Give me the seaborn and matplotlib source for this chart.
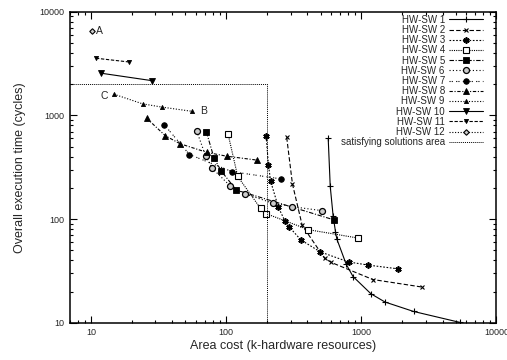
# %% imports

import seaborn as sns
import matplotlib
matplotlib.use("Agg")
import matplotlib.pyplot as plt
import matplotlib.ticker as mticker

# %% data (area in k-hardware resources, time in cycles)

names = ["HW-SW 1", "HW-SW 2", "HW-SW 3", "HW-SW 4", "HW-SW 5", "HW-SW 6",
         "HW-SW 7", "HW-SW 8", "HW-SW 9", "HW-SW 10", "HW-SW 11", "HW-SW 12"]

area_1 = [570, 590, 620, 645, 660, 775, 870, 1180, 1500, 2440, 5400]
time_1 = [600, 207, 107, 76, 64.5, 36.7, 28, 19.1, 15.9, 12.9, 10.1]

area_2 = [281, 310, 366, 536, 600, 1220, 2800]
time_2 = [615, 218, 87, 42, 38.3, 26.2, 22.2]

area_3 = [198, 206, 214, 244, 273, 292, 358, 499, 807, 1125, 1875]
time_3 = [627, 330, 231, 130, 95.7, 84.7, 63.1, 48.3, 38.7, 36.1, 33.2]

area_4 = [103.5, 122, 180, 198, 407, 940]
time_4 = [661, 258, 127, 113, 79.2, 65.9]

area_5 = [71.6, 81.5, 91.8, 119, 628]
time_5 = [691, 388, 293, 191, 98.5]

area_6 = [60.7, 70.5, 79.3, 107, 137, 221, 308, 509]
time_6 = [706, 409, 308, 210, 176, 143, 132, 121]

area_7 = [34.8, 53.6, 111, 257]
time_7 = [817, 420, 287, 244]

area_8 = [25.8, 35.6, 45.8, 72.4, 101.7, 170]
time_8 = [942, 636, 533, 440, 404, 371]

area_9 = [14.8, 24.1, 33.7, 56.2]
time_9 = [1603, 1294, 1202, 1095]

area_10 = [11.9, 28.1]
time_10 = [2553, 2167]

area_11 = [10.9, 19.0]
time_11 = [3560, 3280]

area_12 = [10.2]
time_12 = [6520]

# satisfying solutions area: area <= 200, time <= 2000
limit_area = [7, 200, 200]
limit_time = [2000, 2000, 10]

areas = [area_1, area_2, area_3, area_4, area_5, area_6,
         area_7, area_8, area_9, area_10, area_11, area_12]
times = [time_1, time_2, time_3, time_4, time_5, time_6,
         time_7, time_8, time_9, time_10, time_11, time_12]

# %% gnuplot-like styles

styles = [
    dict(marker="+", ms=4.5, ls="-", mew=0.8),
    dict(marker="x", ms=3.5, ls=(0, (4, 2)), mew=0.8),
    dict(marker=(6, 2, 0), ms=4.5, ls=(0, (1.5, 1.5)), mew=1.2),
    dict(marker="s", ms=4, ls=(0, (1, 1)), mfc="white", mew=0.8),
    dict(marker="s", ms=4.3, ls=(0, (4, 1.5, 1, 1.5))),
    dict(marker="o", ms=4.3, ls=(0, (1, 2)), mfc="#cccccc", mew=0.9),
    dict(marker="o", ms=4, ls=(0, (1, 1, 1, 3))),
    dict(marker="^", ms=4.8, ls=(0, (3, 1.5, 1, 1.5))),
    dict(marker="^", ms=3, ls=(0, (1, 1.5))),
    dict(marker="v", ms=5, ls="-"),
    dict(marker="v", ms=3, ls=(0, (3, 1.5))),
    dict(marker="D", ms=2.8, ls=(0, (1, 1.5)), mfc="#cccccc", mew=0.8),
]

# %% plot

sns.set_style("ticks")
plt.rcParams['font.family'] = ['Liberation Sans', 'DejaVu Sans']

fig, ax = plt.subplots(figsize=(5.07, 3.6), dpi=100)
fig.subplots_adjust(left=0.138, right=0.979, bottom=0.103, top=0.9675)

for name, xs, ys, st in zip(names, areas, times, styles):
    sns.lineplot(x=xs, y=ys, ax=ax, color="black", linewidth=0.8,
                 sort=False, estimator=None, label=name,
                 linestyle=st["ls"], marker=st["marker"], markersize=st["ms"],
                 markerfacecolor=st.get("mfc", "black"),
                 markeredgecolor="black", markeredgewidth=st.get("mew", 0.6),
                 clip_on=True)

sns.lineplot(x=limit_area, y=limit_time, ax=ax, color="black", linewidth=0.7,
             sort=False, estimator=None, linestyle=(0, (1, 1)),
             label="satisfying solutions area")

ax.set_xscale("log")
ax.set_yscale("log")
ax.set_xlim(7, 10000)
ax.set_ylim(10, 10000)

fmt = mticker.FuncFormatter(lambda v, p: "%d" % v)
ax.xaxis.set_major_formatter(fmt)
ax.yaxis.set_major_formatter(fmt)
ax.xaxis.set_minor_formatter(mticker.NullFormatter())
ax.yaxis.set_minor_formatter(mticker.NullFormatter())
ax.xaxis.set_minor_locator(mticker.LogLocator(base=10, subs=range(2, 10)))
ax.yaxis.set_minor_locator(mticker.LogLocator(base=10, subs=range(2, 10)))

ax.tick_params(which="both", direction="in", top=True, right=True,
               labelsize=6.5, color="black", width=0.8)
ax.tick_params(which="major", length=5, pad=4)
ax.tick_params(which="minor", length=2.5)
for sp in ax.spines.values():
    sp.set_linewidth(1.1)
    sp.set_color("black")

ax.set_xlabel("Area cost (k-hardware resources)", fontsize=9, labelpad=2)
ax.set_ylabel("Overall execution time (cycles)", fontsize=9, labelpad=10)

# point labels
ax.annotate("A", (area_12[0], time_12[0]), xytext=(3, 0),
            textcoords="offset points", fontsize=7.5, va="center", ha="left")
ax.annotate("C", (area_9[0], time_9[0]), xytext=(-4, -1),
            textcoords="offset points", fontsize=7.5, va="center", ha="right")
ax.annotate("B", (area_9[-1], time_9[-1]), xytext=(6, 0),
            textcoords="offset points", fontsize=7.5, va="center", ha="left")

ax.legend(loc="upper right", bbox_to_anchor=(0.968, 0.99), frameon=False,
          markerfirst=False, fontsize=7, labelspacing=0.02, handlelength=3.5,
          handletextpad=0.4, borderpad=0, borderaxespad=0, numpoints=1)

fig.savefig("out.png", dpi=100)
